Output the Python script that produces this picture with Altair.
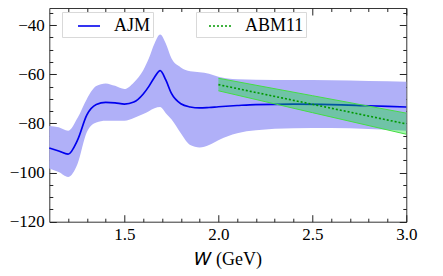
import altair as alt
import pandas as pd

# ---- data ----
W = [1.10, 1.15, 1.20, 1.25, 1.30, 1.35, 1.40, 1.45, 1.50, 1.55, 1.60, 1.63, 1.66, 1.69,
     1.72, 1.75, 1.80, 1.85, 1.90, 1.95, 2.00, 2.10, 2.20, 2.40, 2.60, 2.80, 3.00]
ajm_center = [-90.0, -91.2, -92.5, -86.8, -76.5, -72.3, -71.4, -71.6, -72.1, -71.3, -68.0,
              -64.9, -61.2, -58.5, -62.3, -67.8, -72.0, -73.3, -73.7, -73.5, -73.2, -72.7,
              -72.3, -72.1, -72.3, -72.8, -73.3]
ajm_upper = [-81.0, -81.6, -83.0, -77.8, -70.0, -64.8, -63.7, -64.7, -66.0, -63.3, -58.3,
             -53.5, -47.5, -43.8, -47.5, -53.5, -57.2, -58.8, -59.2, -59.8, -61.0, -62.0,
             -62.2, -62.3, -62.4, -62.7, -63.0]
ajm_lower = [-98.3, -99.8, -101.8, -96.5, -83.5, -79.6, -78.9, -78.9, -78.9, -77.8, -76.2,
             -75.0, -73.8, -73.3, -75.8, -78.3, -84.0, -88.8, -89.8, -88.8, -86.8, -84.0,
             -82.8, -82.0, -81.9, -82.3, -83.0]

W_abm = [2.0, 2.5, 3.0]
abm_center = [-64.2, -72.2, -80.2]
abm_upper = [-61.6, -68.7, -75.8]
abm_lower = [-66.7, -75.6, -84.4]

series_names = ["AJM", "ABM11"]

x_major = [1.5, 2.0, 2.5, 3.0]
x_minor = [1.2, 1.3, 1.4, 1.6, 1.7, 1.8, 1.9, 2.1, 2.2, 2.3, 2.4, 2.6, 2.7, 2.8, 2.9]
y_major = [-120, -100, -80, -60, -40]
y_minor = [-115, -110, -105, -95, -90, -85, -75, -70, -65, -55, -50, -45, -35]

ajm = pd.DataFrame({"W": W, "center": ajm_center, "upper": ajm_upper,
                    "lower": ajm_lower, "series": series_names[0]})
abm = pd.DataFrame({"W": W_abm, "center": abm_center, "upper": abm_upper,
                    "lower": abm_lower, "series": series_names[1]})

FONT = "Liberation Serif"
TICK = "#222222"
MAJ, MIN = 7, 3.5

xs = alt.Scale(domain=[1.1, 3.0], nice=False, zero=False)
ys = alt.Scale(domain=[-120, -33], nice=False, zero=False)


def xaxis(orient, values, size, labels=False, title=""):
    kw = dict(orient=orient, values=values, tickSize=size, offset=-size, domain=False,
              grid=False, labels=labels, title=title, tickColor=TICK, tickWidth=1)
    if labels:
        kw.update(format=".1f", labelFont=FONT, labelFontSize=17, labelColor="black",
                  labelPadding=5, labelFlush=False, labelOverlap=False,
                  titleFont=FONT, titleFontSize=18, titleFontWeight="normal",
                  titleColor="black", titlePadding=8)
    return alt.Axis(**kw)


def yaxis(orient, values, size, labels=False):
    kw = dict(orient=orient, values=values, tickSize=size, offset=-size, domain=False,
              grid=False, labels=labels, title="", tickColor=TICK, tickWidth=1)
    if labels:
        kw.update(labelFont=FONT, labelFontSize=17, labelColor="black", labelPadding=5,
                  labelFlush=False, labelOverlap=False,
                  labelExpr="datum.value < 0 ? '\u2212' + abs(datum.value) : datum.label")
    return alt.Axis(**kw)


band = alt.Chart(ajm).mark_area(color="#b0b0f8", opacity=1, interpolate="monotone").encode(
    x=alt.X("W:Q", scale=xs, axis=xaxis("bottom", x_major, MAJ, labels=True,
                                        title="\U0001D44A (GeV)")),
    y=alt.Y("lower:Q", scale=ys, axis=yaxis("left", y_major, MAJ, labels=True)),
    y2="upper:Q",
)

line = alt.Chart(ajm).mark_line(strokeWidth=1.7, interpolate="monotone").encode(
    x=alt.X("W:Q", scale=xs, axis=xaxis("bottom", x_minor, MIN)),
    y=alt.Y("center:Q", scale=ys, axis=yaxis("left", y_minor, MIN)),
    color=alt.Color("series:N", scale=alt.Scale(domain=[series_names[0]], range=["#0000ee"]),
                    legend=alt.Legend(orient="none", legendX=12.7, legendY=4, title=None,
                                      strokeColor="#d9d9d9", fillColor="white", padding=2,
                                      symbolType="stroke", symbolSize=484,
                                      symbolStrokeWidth=1.6, symbolOffset=13, labelOffset=13,
                                      labelFont=FONT, labelFontSize=18, labelColor="black",
                                      labelExpr="datum.label + '\u00a0\u00a0\u00a0'")),
)

abm_band = alt.Chart(abm).mark_area(color="#00e619", opacity=0.36).encode(
    x=alt.X("W:Q", scale=xs, axis=xaxis("top", x_major, MAJ)),
    y=alt.Y("lower:Q", scale=ys, axis=yaxis("right", y_major, MAJ)),
    y2="upper:Q",
)

abm_edges = alt.Chart(abm).transform_fold(["upper", "lower"], as_=["edge", "val"]).mark_line(
    color="#44dd44", strokeWidth=1).encode(
    x=alt.X("W:Q", scale=xs, axis=xaxis("top", x_minor, MIN)),
    y=alt.Y("val:Q", scale=ys, axis=yaxis("right", y_minor, MIN)),
    detail="edge:N",
)

abm_line = alt.Chart(abm).mark_line(strokeWidth=1.6, strokeDash=[2, 2]).encode(
    x=alt.X("W:Q", scale=xs, axis=None),
    y=alt.Y("center:Q", scale=ys, axis=None),
    stroke=alt.Stroke("series:N", scale=alt.Scale(domain=[series_names[1]], range=["#009900"]),
                      legend=alt.Legend(orient="none", legendX=146.7, legendY=4, title=None,
                                        strokeColor="#d9d9d9", fillColor="white", padding=2,
                                        symbolType="stroke", symbolSize=484,
                                        symbolStrokeWidth=1.6, symbolDash=[2, 2],
                                        symbolOffset=10, labelOffset=13,
                                        labelFont=FONT, labelFontSize=18, labelColor="black")),
)

chart = alt.layer(band, line, abm_band, abm_edges, abm_line).resolve_axis(
    x="independent", y="independent"
).resolve_legend(color="independent", stroke="independent").properties(
    width=357, height=213.7,
    autosize=alt.AutoSizeParams(type="none"),
    padding={"left": 41.3, "top": 0, "right": 20, "bottom": 50},
    background="white",
).configure_view(stroke="#333333", strokeWidth=1)

chart.save("out.html", embed_options={"renderer": "svg", "actions": False})
